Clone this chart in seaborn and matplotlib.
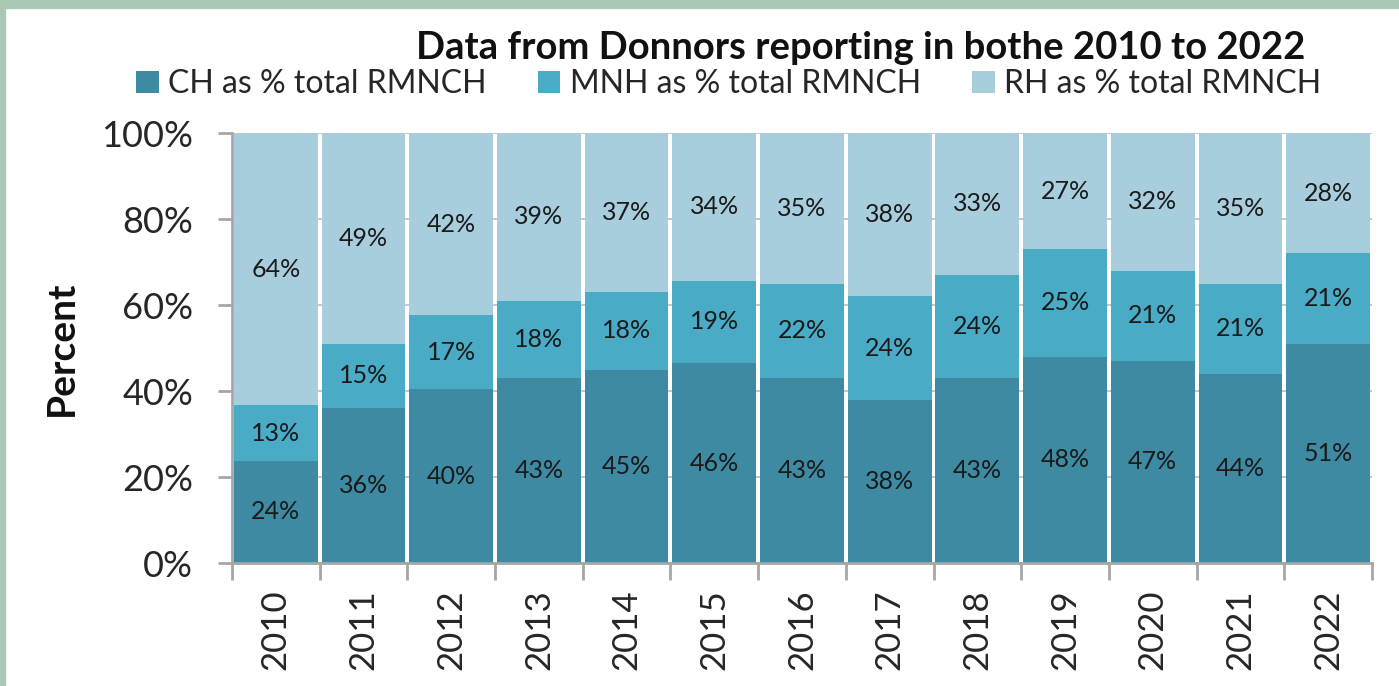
import matplotlib
matplotlib.use("Agg")
import matplotlib.pyplot as plt
from matplotlib.patches import Rectangle, Patch
from matplotlib.ticker import PercentFormatter
import seaborn as sns
import numpy as np

# data
years = ['2010', '2011', '2012', '2013', '2014', '2015', '2016',
         '2017', '2018', '2019', '2020', '2021', '2022']
ch = [24, 36, 40, 43, 45, 46, 43, 38, 43, 48, 47, 44, 51]
mnh = [13, 15, 17, 18, 18, 19, 22, 24, 24, 25, 21, 21, 21]
rh = [64, 49, 42, 39, 37, 34, 35, 38, 33, 27, 32, 35, 28]
series_names = ['CH as % total RMNCH', 'MNH as % total RMNCH', 'RH as % total RMNCH']
colors = ['#3D8AA2', '#4AABC7', '#A8CEDD']

sns.set_theme(style='white')
plt.rcParams['font.family'] = ['Lato', 'DejaVu Sans']

fig = plt.figure(figsize=(13.99, 6.86), dpi=100)
ax = fig.add_axes([0.1658, 0.1793, 0.8149, 0.6268])

# green frame on left and top
fig.patches.append(Rectangle((0, 0), 5 / 1399, 1, transform=fig.transFigure,
                             color='#A9C9B5', zorder=10))
fig.patches.append(Rectangle((0, 1 - 8 / 686), 1, 8 / 686, transform=fig.transFigure,
                             color='#A9C9B5', zorder=10))

# rounded shares normalised so every stack fills 100%
vals = np.array([ch, mnh, rh], dtype=float)
shares = vals / vals.sum(axis=0) * 100

bottom = np.zeros(len(years))
for i in range(3):
    sns.barplot(x=years, y=shares[i], bottom=bottom, color=colors[i], width=0.955,
                saturation=1, linewidth=0, ax=ax, zorder=2)
    for j, y in enumerate(years):
        ax.text(j, bottom[j] + shares[i][j] / 2, f'{int(vals[i][j])}%',
                ha='center', va='center', fontsize=18, color='#1a1a1a', zorder=3)
    bottom = bottom + shares[i]

ax.set_ylim(0, 100)
ax.set_xlim(-0.5, len(years) - 0.5)
ax.yaxis.set_major_formatter(PercentFormatter(decimals=0))
ax.set_yticks([0, 20, 40, 60, 80, 100])
ax.grid(axis='y', color='#BDBDBD', linewidth=1.2, zorder=0)
ax.set_axisbelow(True)

for s in ['top', 'right']:
    ax.spines[s].set_visible(False)
for s in ['left', 'bottom']:
    ax.spines[s].set_color('#A6A6A6')
    ax.spines[s].set_linewidth(2)

ax.tick_params(axis='y', which='major', left=True, length=10, width=2, color='#A6A6A6',
               labelsize=26, labelcolor='#262626', pad=18)
ax.set_xticks(range(len(years)))
ax.set_xticklabels(years, rotation=90)
ax.set_xticks(np.arange(-0.5, len(years), 1), minor=True)
ax.tick_params(axis='x', which='major', bottom=False, labelsize=25, labelcolor='#262626', pad=13)
ax.tick_params(axis='x', which='minor', bottom=True, length=12, width=2, color='#A6A6A6')

ax.set_xlabel('')
ax.set_ylabel('Percent', fontsize=28, fontweight='bold', color='#111111')
ax.yaxis.set_label_coords(-0.134, 0.5)

fig.text(0.615, 0.930, 'Data from Donnors reporting in bothe 2010 to 2022',
         ha='center', va='center', fontsize=27.5, fontweight='bold', color='#111111')

handles = [Patch(facecolor=c, edgecolor='none') for c in colors]
fig.legend(handles, series_names, loc='center', bbox_to_anchor=(0.521, 0.877), ncol=3,
           frameon=False, fontsize=23, handlelength=0.7, handleheight=0.7,
           handletextpad=0.3, columnspacing=1.6, labelcolor='#262626')

fig.savefig('out.png', dpi=100, facecolor='white')
